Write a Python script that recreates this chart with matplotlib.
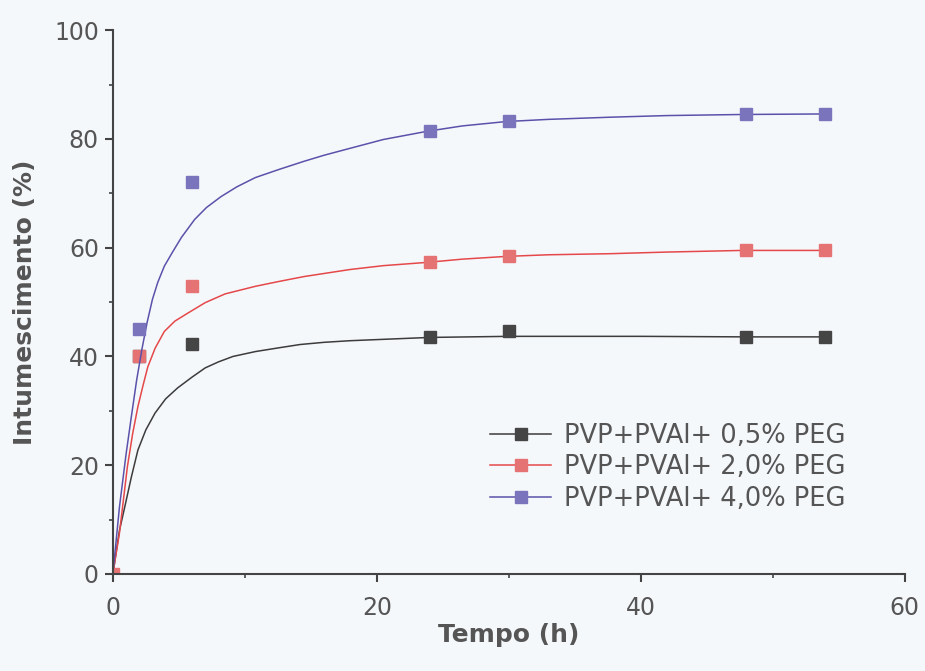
import matplotlib
matplotlib.use("Agg")
import matplotlib.pyplot as plt
from matplotlib.ticker import MultipleLocator

# measured points (tempo in h, intumescimento in %)
t_black = [2, 6, 24, 30, 48, 54]
y_black = [40, 42.3, 43.5, 44.6, 43.6, 43.6]
t_red = [0, 2, 6, 24, 30, 48, 54]
y_red = [0, 40, 53, 57.3, 58.4, 59.5, 59.5]
t_blue = [2, 6, 24, 30, 48, 54]
y_blue = [45, 72, 81.4, 83.3, 84.5, 84.5]

# fitted curves
fit_black_t = [0, 0.5, 0.9, 1.4, 1.9, 2.5, 3.2, 4.0, 4.9, 6.0, 7.0, 8.0, 9.1, 10.8, 12.6, 14.2, 16, 18, 21, 24, 30, 40, 48, 54]
fit_black_y = [0, 8, 12.3, 17.8, 22.8, 26.5, 29.6, 32.2, 34.2, 36.2, 37.9, 39.0, 40.0, 40.9, 41.6, 42.2, 42.6, 42.9, 43.2, 43.5, 43.7, 43.7, 43.6, 43.6]
fit_red_t = [0, 0.5, 1.1, 1.5, 1.9, 2.3, 2.65, 3.2, 3.9, 4.7, 5.7, 7.0, 8.5, 10.8, 12.6, 14.5, 18, 20.5, 23.8, 26.5, 29.8, 33, 37.7, 42, 47.7, 54]
fit_red_y = [0, 7.5, 19.7, 25.8, 30.8, 34.8, 38.1, 41.5, 44.6, 46.5, 48.0, 49.9, 51.5, 52.9, 53.8, 54.7, 56.0, 56.7, 57.3, 57.9, 58.4, 58.7, 58.9, 59.2, 59.5, 59.5]
fit_blue_t = [0, 0.5, 1.0, 1.4, 1.8, 2.2, 2.6, 3.0, 3.4, 3.9, 4.5, 5.2, 6.2, 7.1, 8.2, 9.4, 10.8, 12.6, 14.5, 16, 17.7, 20.5, 23.8, 26.5, 29.8, 33, 37.7, 42, 47.7, 54]
fit_blue_y = [0, 12.3, 22.0, 28.9, 35.6, 41.3, 46.3, 50.5, 53.6, 56.6, 59.1, 61.9, 65.2, 67.4, 69.4, 71.2, 72.9, 74.4, 75.9, 77.0, 78.1, 79.9, 81.4, 82.4, 83.2, 83.6, 84.0, 84.3, 84.5, 84.6]

labels = ["PVP+PVAl+ 0,5% PEG", "PVP+PVAl+ 2,0% PEG", "PVP+PVAl+ 4,0% PEG"]

bg = "#f5f8fb"
txt = "#555555"
axc = "#444444"

fig = plt.figure(figsize=(9.25, 6.71), dpi=100, facecolor=bg)
ax = fig.add_axes([0.122, 0.1446, 0.856, 0.8104], facecolor=bg)

series = [
    (t_black, y_black, fit_black_t, fit_black_y, "#3c3c3c", "#454545"),
    (t_red, y_red, fit_red_t, fit_red_y, "#e5484a", "#e57373"),
    (t_blue, y_blue, fit_blue_t, fit_blue_y, "#5a52aa", "#7a74bc"),
]
handles = []
for t, y, ft, fy, lc, mc in series:
    ax.plot(ft, fy, color=lc, lw=1.1, solid_joinstyle="round")
    ax.plot(t, y, ls="none", marker="s", ms=8.5, color=mc, mec=mc)
    h, = ax.plot([], [], color=lc, lw=1.1, marker="s", ms=8.5, mfc=mc, mec=mc)
    handles.append(h)

ax.set_xlim(0, 60)
ax.set_ylim(0, 100)
ax.xaxis.set_major_locator(MultipleLocator(20))
ax.xaxis.set_minor_locator(MultipleLocator(10))
ax.yaxis.set_major_locator(MultipleLocator(20))
ax.yaxis.set_minor_locator(MultipleLocator(10))

for s in ["top", "right"]:
    ax.spines[s].set_visible(False)
for s in ["left", "bottom"]:
    ax.spines[s].set_linewidth(1.5)
    ax.spines[s].set_color(axc)

ax.tick_params(which="major", length=6, width=1.5, color=axc, labelsize=17, labelcolor=txt)
ax.tick_params(which="minor", length=3, width=1.2, color=axc)
ax.tick_params(axis="x", which="major", pad=10)
ax.tick_params(axis="y", which="major", pad=4)

ax.set_xlabel("Tempo (h)", fontsize=18, fontweight="bold", color=txt, labelpad=2)
ax.set_ylabel("Intumescimento (%)", fontsize=18, fontweight="bold", color=txt, labelpad=12)

leg = ax.legend(handles, labels, loc="upper left", bbox_to_anchor=(0.476, 0.278),
                frameon=False, fontsize=18.5, labelspacing=0.22, handlelength=2.4,
                handletextpad=0.5, borderpad=0, borderaxespad=0)
for tx in leg.get_texts():
    tx.set_color(txt)

fig.savefig("out.png", dpi=100, facecolor=bg)
